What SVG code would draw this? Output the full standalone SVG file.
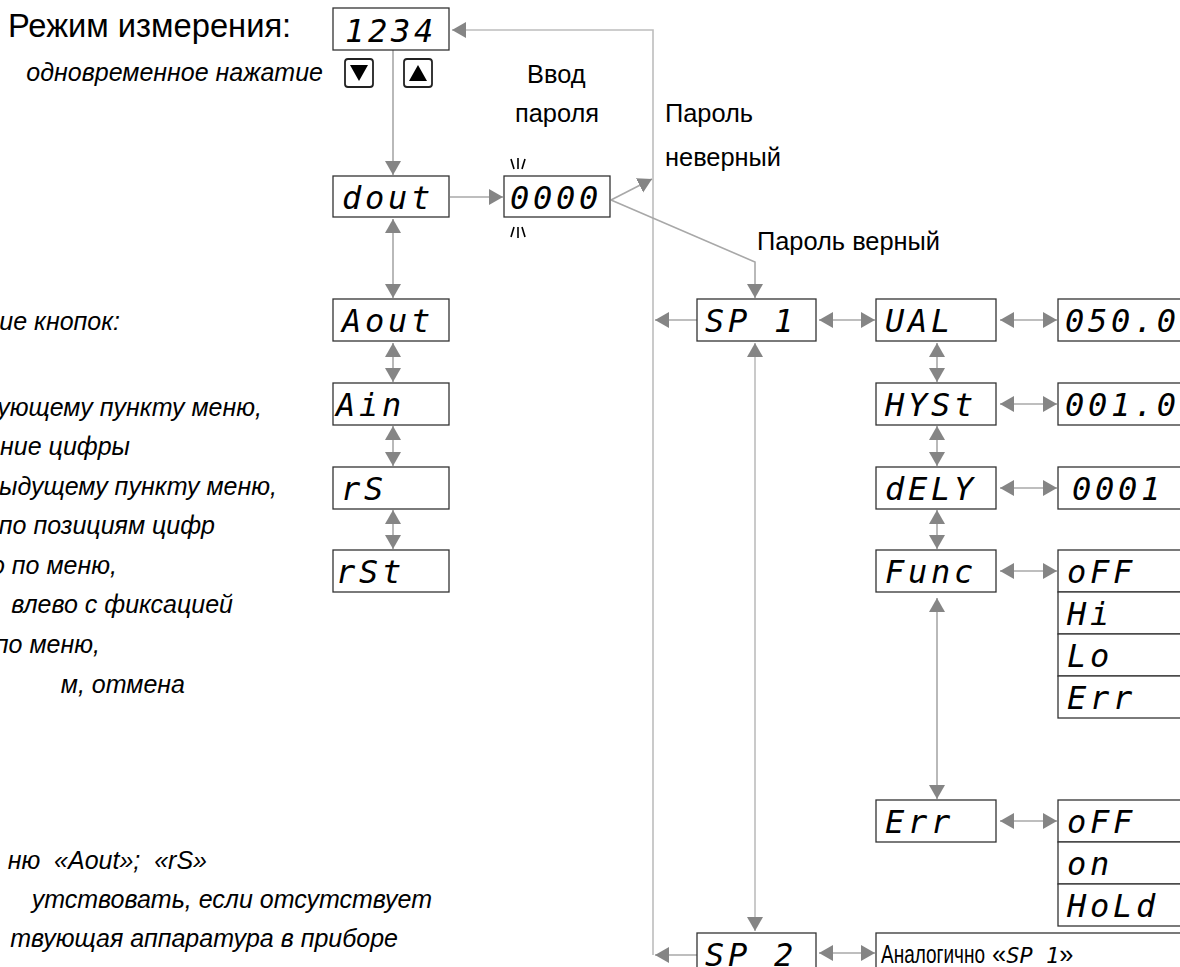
<svg xmlns="http://www.w3.org/2000/svg" width="1180" height="967" viewBox="0 0 1180 967">
<style>
.box{fill:#fff;stroke:#333;stroke-width:1.3}
.seg{font-family:"DejaVu Sans Mono",monospace;font-style:oblique;font-size:32px;letter-spacing:3.7px;fill:#000}
.seg2{font-family:"DejaVu Sans Mono",monospace;font-style:oblique;font-size:22px}
.lbl{font-family:"Liberation Sans",Arial,sans-serif;font-size:25.4px;fill:#000}
.title{font-family:"Liberation Sans",Arial,sans-serif;font-size:32.7px;fill:#000}
.it{font-family:"Liberation Sans",Arial,sans-serif;font-style:italic;font-size:25px;fill:#000;text-anchor:end;white-space:pre}
.ln{stroke:#a8a8a8;stroke-width:1.6;fill:none}
.lt{stroke:#bdbdbd;stroke-width:1.6;fill:none}
.btn{fill:#fff;stroke:#222;stroke-width:1.8}
.bl{stroke:#000;stroke-width:1.6}
</style>
<defs>
<marker id="ah" markerUnits="userSpaceOnUse" markerWidth="15" markerHeight="17" refX="14" refY="8" orient="auto-start-reverse" viewBox="0 0 15 17">
<path d="M0,0 L14,8 L0,16 z" fill="#858585"/>
</marker>
</defs>
<rect width="1180" height="967" fill="#fff"/>

<g id="texts">
<text class="title" x="8" y="37">Режим измерения:</text>
<text class="it" x="323" y="81">одновременное нажатие</text>
<text class="lbl" x="527" y="83">Ввод</text>
<text class="lbl" x="515" y="122">пароля</text>
<text class="lbl" x="665" y="122">Пароль</text>
<text class="lbl" x="665" y="166">неверный</text>
<text class="lbl" x="757" y="250">Пароль верный</text>
<text class="it" x="120" y="330">ие кнопок:</text>
<text class="it" x="262" y="416">ующему пункту меню,</text>
<text class="it" x="130" y="455">ние цифры</text>
<text class="it" x="277" y="495">ыдущему пункту меню,</text>
<text class="it" x="215" y="534">по позициям цифр</text>
<text class="it" x="117" y="574">о по меню,</text>
<text class="it" x="233" y="613">влево с фиксацией</text>
<text class="it" x="100" y="653">по меню,</text>
<text class="it" x="185" y="693">м, отмена</text>
<text class="it" x="207" y="869">ню  «Aout»;  «rS»</text>
<text class="it" x="432" y="908">утствовать, если отсутствует</text>
<text class="it" x="398" y="947">твующая аппаратура в приборе</text>
</g>

<g id="buttons">
<rect class="btn" x="345" y="59" width="28" height="28" rx="3"/>
<path d="M350,65 L368,65 L359,81 z" fill="#000"/>
<rect class="btn" x="404" y="59" width="28" height="28" rx="3"/>
<path d="M409,81 L427,81 L418,65 z" fill="#000"/>
</g>

<g id="connectors">
<polyline class="lt" points="653,955 653,30 452,30" marker-end="url(#ah)"/>
<line class="ln" x1="393" y1="50" x2="393" y2="175" marker-end="url(#ah)"/>
<line class="ln" x1="393" y1="219" x2="393" y2="298" marker-start="url(#ah)" marker-end="url(#ah)"/>
<line class="ln" x1="393" y1="343" x2="393" y2="382" marker-start="url(#ah)" marker-end="url(#ah)"/>
<line class="ln" x1="393" y1="426" x2="393" y2="466" marker-start="url(#ah)" marker-end="url(#ah)"/>
<line class="ln" x1="393" y1="510" x2="393" y2="549" marker-start="url(#ah)" marker-end="url(#ah)"/>
<line class="ln" x1="450" y1="197" x2="503" y2="197" marker-end="url(#ah)"/>
<line class="ln" x1="611" y1="200" x2="652" y2="179" marker-end="url(#ah)"/>
<polyline class="ln" points="611,200 755,262 755,298" marker-end="url(#ah)"/>
<line class="ln" x1="697" y1="320" x2="655" y2="320" marker-end="url(#ah)"/>
<line class="ln" x1="697" y1="955" x2="655" y2="955" marker-end="url(#ah)"/>
<line class="lt" x1="755" y1="343" x2="755" y2="931" marker-start="url(#ah)" marker-end="url(#ah)"/>
<line class="ln" x1="819" y1="320" x2="875" y2="320" marker-start="url(#ah)" marker-end="url(#ah)"/>
<line class="ln" x1="1000" y1="320" x2="1057" y2="320" marker-start="url(#ah)" marker-end="url(#ah)"/>
<line class="ln" x1="1000" y1="404" x2="1057" y2="404" marker-start="url(#ah)" marker-end="url(#ah)"/>
<line class="ln" x1="1000" y1="488" x2="1057" y2="488" marker-start="url(#ah)" marker-end="url(#ah)"/>
<line class="ln" x1="1000" y1="571" x2="1057" y2="571" marker-start="url(#ah)" marker-end="url(#ah)"/>
<line class="ln" x1="1000" y1="821" x2="1057" y2="821" marker-start="url(#ah)" marker-end="url(#ah)"/>
<line class="ln" x1="819" y1="953" x2="875" y2="953" marker-start="url(#ah)" marker-end="url(#ah)"/>
<line class="ln" x1="937" y1="343" x2="937" y2="382" marker-start="url(#ah)" marker-end="url(#ah)"/>
<line class="ln" x1="937" y1="426" x2="937" y2="466" marker-start="url(#ah)" marker-end="url(#ah)"/>
<line class="ln" x1="937" y1="510" x2="937" y2="549" marker-start="url(#ah)" marker-end="url(#ah)"/>
<line class="ln" x1="937" y1="598" x2="937" y2="799" marker-start="url(#ah)" marker-end="url(#ah)"/>
</g>

<g id="blink">
<line class="bl" x1="511" y1="159" x2="514" y2="169"/><line class="bl" x1="518" y1="158" x2="518" y2="169"/><line class="bl" x1="525" y1="159" x2="522" y2="169"/>
<line class="bl" x1="514" y1="227" x2="511" y2="237"/><line class="bl" x1="518" y1="227" x2="518" y2="238"/><line class="bl" x1="522" y1="227" x2="525" y2="237"/>
</g>

<g id="n1234"><rect class="box" x="333" y="8" width="116" height="42"/><text class="seg" x="345" y="42">1234</text></g>
<g id="ndout"><rect class="box" x="333" y="176" width="116" height="41"/><text class="seg" x="342" y="209">dout</text></g>
<g id="n0000"><rect class="box" x="504" y="176" width="106" height="41"/><text class="seg" x="510" y="209">0000</text></g>
<g id="nAout"><rect class="box" x="333" y="299" width="116" height="42"/><text class="seg" x="342" y="332">Aout</text></g>
<g id="nAin"><rect class="box" x="333" y="383" width="116" height="42"/><text class="seg" x="336" y="416">Ain</text></g>
<g id="nrS"><rect class="box" x="333" y="467" width="116" height="42"/><text class="seg" x="341" y="500">rS</text></g>
<g id="nrSt"><rect class="box" x="333" y="550" width="116" height="42"/><text class="seg" x="336" y="583">rSt</text></g>

<g id="nSP1"><rect class="box" x="697" y="299" width="119" height="42"/><text class="seg" x="705" y="332">SP 1</text></g>
<g id="nUAL"><rect class="box" x="876" y="299" width="120" height="42"/><text class="seg" x="885" y="332">UAL</text></g>
<g id="nv050"><rect class="box" x="1058" y="299" width="135" height="42"/><text class="seg" x="1065" y="332">050.0</text></g>
<g id="nHYSt"><rect class="box" x="876" y="383" width="120" height="42"/><text class="seg" x="885" y="416">HYSt</text></g>
<g id="nv001"><rect class="box" x="1058" y="383" width="135" height="42"/><text class="seg" x="1065" y="416">001.0</text></g>
<g id="ndELY"><rect class="box" x="876" y="467" width="120" height="42"/><text class="seg" x="885" y="500">dELY</text></g>
<g id="nv0001"><rect class="box" x="1058" y="467" width="135" height="42"/><text class="seg" x="1072" y="500">0001</text></g>
<g id="nFunc"><rect class="box" x="876" y="550" width="120" height="42"/><text class="seg" x="885" y="583">Func</text></g>
<g id="nFuncOpts">
<rect class="box" x="1058" y="550" width="135" height="42"/><text class="seg" x="1067" y="583">oFF</text>
<rect class="box" x="1058" y="592" width="135" height="42"/><text class="seg" x="1067" y="625">Hi</text>
<rect class="box" x="1058" y="634" width="135" height="42"/><text class="seg" x="1067" y="667">Lo</text>
<rect class="box" x="1058" y="676" width="135" height="42"/><text class="seg" x="1067" y="709">Err</text>
</g>
<g id="nErr"><rect class="box" x="876" y="800" width="120" height="42"/><text class="seg" x="885" y="833">Err</text></g>
<g id="nErrOpts">
<rect class="box" x="1058" y="800" width="135" height="42"/><text class="seg" x="1067" y="833">oFF</text>
<rect class="box" x="1058" y="842" width="135" height="42"/><text class="seg" x="1067" y="875">on</text>
<rect class="box" x="1058" y="884" width="135" height="42"/><text class="seg" x="1067" y="917">HoLd</text>
</g>
<g id="nSP2"><rect class="box" x="697" y="933" width="119" height="42"/><text class="seg" x="705" y="966">SP 2</text></g>
<g id="nAnalog"><rect class="box" x="876" y="933" width="320" height="42"/>
<text class="lbl" x="881" y="963"><tspan textLength="104" lengthAdjust="spacingAndGlyphs">Аналогично</tspan> «<tspan class="seg2">SP 1</tspan>»</text>
</g>
</svg>
